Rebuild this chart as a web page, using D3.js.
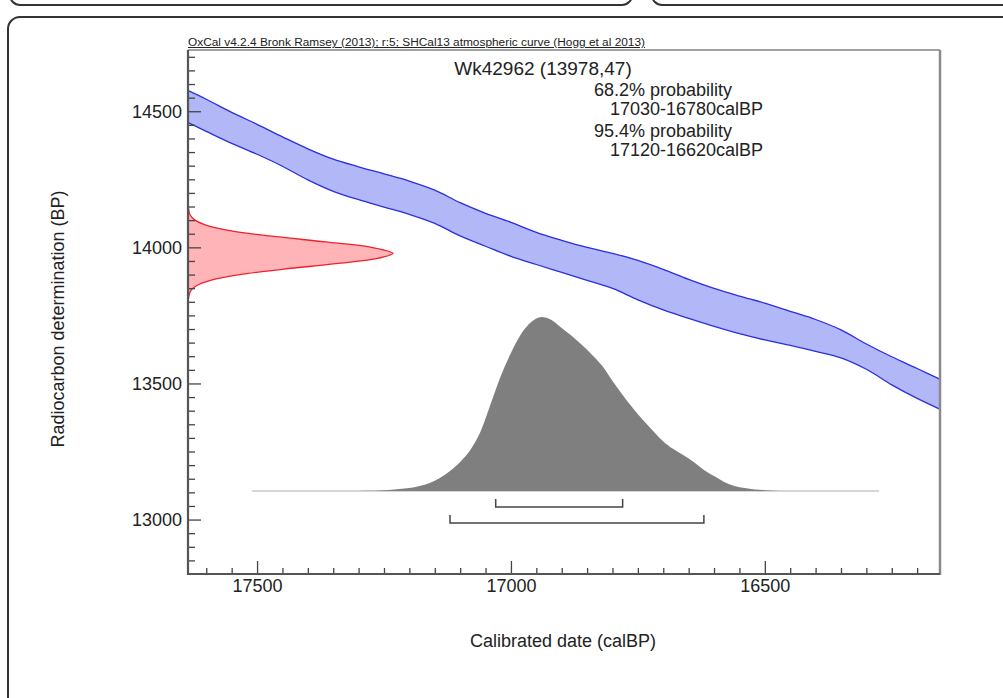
<!DOCTYPE html>
<html>
<head>
<meta charset="utf-8">
<script src="https://cdn.jsdelivr.net/npm/d3@7"></script>
<style>
  html, body { margin: 0; padding: 0; background: #fff; }
  svg { display: block; font-family: "Liberation Sans", Arial, Helvetica, sans-serif; }
</style>
</head>
<body>
<svg id="chart" width="1003" height="698"></svg>
<script>
// ---- Sample and calibration summary ----
const sampleName = "Wk42962";
const c14Age = 13978;
const c14Error = 47;
const headerText = "OxCal v4.2.4 Bronk Ramsey (2013); r:5; SHCal13 atmospheric curve (Hogg et al 2013)";
const rangeLevels = ["68.2% probability", "95.4% probability"];
const rangeFrom = [17030, 17120];
const rangeTo = [16780, 16620];

// ---- Axes ----
const calDomain = [17636, 16155];
const bpDomain = [12800, 14725];
const xTicks = [17500, 17000, 16500];
const yTicks = [13000, 13500, 14000, 14500];
const xTitle = "Calibrated date (calBP)";
const yTitle = "Radiocarbon determination (BP)";

// ---- Calibration curve (1-sigma envelope) ----
const curveCalBP = [17650, 17600, 17550, 17500, 17450, 17400, 17350, 17300, 17250, 17200, 17150,
                    17100, 17050, 17000, 16950, 16900, 16850, 16800, 16750, 16700, 16650, 16600,
                    16550, 16500, 16450, 16400, 16350, 16300, 16250, 16200, 16150];
const curveUpper = [14588, 14544, 14496, 14452, 14406, 14362, 14324, 14296, 14270, 14243, 14210,
                    14164, 14125, 14092, 14055, 14026, 14000, 13978, 13952, 13919, 13882, 13849,
                    13821, 13795, 13765, 13735, 13697, 13645, 13598, 13555, 13511];
const curveLower = [14471, 14426, 14382, 14342, 14298, 14248, 14206, 14175, 14148, 14121, 14088,
                    14042, 14004, 13967, 13937, 13908, 13879, 13849, 13807, 13770, 13739, 13710,
                    13683, 13660, 13640, 13618, 13594, 13552, 13495, 13445, 13401];

// ---- Radiocarbon measurement distribution (relative probability) ----
const c14BP = [13800, 13820, 13840, 13860, 13880, 13900, 13920, 13940, 13960, 13978,
               14000, 14020, 14040, 14060, 14080, 14100, 14120, 14140, 14160];
const c14Prob = [0.001, 0.004, 0.013, 0.043, 0.114, 0.252, 0.467, 0.721, 0.929, 1.000,
                 0.896, 0.671, 0.419, 0.218, 0.095, 0.034, 0.010, 0.003, 0.001];

// ---- Calibrated distribution (relative probability) ----
const postCalBP = [17300, 17280, 17260, 17240, 17220, 17200, 17180, 17160, 17140, 17120, 17100,
                   17080, 17060, 17040, 17020, 17000, 16980, 16960, 16940, 16920, 16900, 16880,
                   16860, 16840, 16820, 16800, 16780, 16760, 16740, 16720, 16700, 16680, 16660,
                   16640, 16620, 16600, 16580, 16560, 16540, 16520, 16500, 16480, 16460];
const postProb = [0, 0.001, 0.003, 0.006, 0.011, 0.017, 0.029, 0.046, 0.075, 0.115, 0.167,
                  0.236, 0.340, 0.500, 0.661, 0.793, 0.902, 0.971, 1.000, 0.983, 0.937, 0.891,
                  0.839, 0.782, 0.718, 0.632, 0.552, 0.477, 0.408, 0.345, 0.285, 0.241, 0.205,
                  0.167, 0.121, 0.086, 0.052, 0.029, 0.017, 0.009, 0.005, 0.002, 0];
const postSpan = [17510, 16275];

// ---- Layout ----
const plot = { left: 188, right: 940, top: 50, bottom: 574 };
const ink = "#222";

const svg = d3.select("#chart");

// Page panels around the figure
svg.append("rect").attr("x", 10).attr("y", -40).attr("width", 622).attr("height", 45)
  .attr("rx", 10).attr("fill", "none").attr("stroke", "#333").attr("stroke-width", 2);
svg.append("rect").attr("x", 652).attr("y", -40).attr("width", 420).attr("height", 45)
  .attr("rx", 10).attr("fill", "none").attr("stroke", "#333").attr("stroke-width", 2);
svg.append("rect").attr("x", 8).attr("y", 17).attr("width", 1040).attr("height", 720)
  .attr("rx", 12).attr("fill", "none").attr("stroke", "#333").attr("stroke-width", 2);

// Scales
const x = d3.scaleLinear().domain(calDomain).range([plot.left, plot.right]);
const y = d3.scaleLinear().domain(bpDomain).range([plot.bottom, plot.top]);
const c14Width = d3.scaleLinear().domain([0, 1]).range([plot.left, plot.left + 205]);
const postY = d3.scaleLinear().domain([0, 1]).range([491, 317]);

svg.append("clipPath").attr("id", "plotClip")
  .append("rect").attr("x", plot.left).attr("y", plot.top)
  .attr("width", plot.right - plot.left).attr("height", plot.bottom - plot.top);

const g = svg.append("g").attr("clip-path", "url(#plotClip)");

// Calibration curve band
const curvePts = curveCalBP.map((c, i) => ({ c, hi: curveUpper[i], lo: curveLower[i] }));
g.append("path").datum(curvePts)
  .attr("d", d3.area().x(d => x(d.c)).y0(d => y(d.lo)).y1(d => y(d.hi)).curve(d3.curveCatmullRom))
  .attr("fill", "#b1b7f7");
["hi", "lo"].forEach(k => {
  g.append("path").datum(curvePts)
    .attr("d", d3.line().x(d => x(d.c)).y(d => y(d[k])).curve(d3.curveCatmullRom))
    .attr("fill", "none").attr("stroke", "#2b2ee0").attr("stroke-width", 1.3);
});

// Radiocarbon measurement (drawn out from the y axis)
const c14Pts = c14BP.map((b, i) => ({ b, p: c14Prob[i] }));
g.append("path").datum(c14Pts)
  .attr("d", d3.area().y(d => y(d.b)).x0(plot.left).x1(d => c14Width(d.p)).curve(d3.curveCatmullRom))
  .attr("fill", "#ffb4b8");
g.append("path").datum(c14Pts)
  .attr("d", d3.line().y(d => y(d.b)).x(d => c14Width(d.p)).curve(d3.curveCatmullRom))
  .attr("fill", "none").attr("stroke", "#f0202c").attr("stroke-width", 1.3);

// Calibrated distribution
g.append("line")
  .attr("x1", x(postSpan[0])).attr("x2", x(postSpan[1]))
  .attr("y1", postY(0)).attr("y2", postY(0))
  .attr("stroke", "#d6d6d6").attr("stroke-width", 2);
const postPts = postCalBP.map((c, i) => ({ c, p: postProb[i] }));
g.append("path").datum(postPts)
  .attr("d", d3.area().x(d => x(d.c)).y0(postY(0)).y1(d => postY(d.p)).curve(d3.curveMonotoneX))
  .attr("fill", "#7f7f7f");

// Probability range brackets
const bracketY = [507, 523];
rangeFrom.forEach((from, i) => {
  const yy = bracketY[i];
  g.append("path")
    .attr("d", `M${x(from)},${yy - 8}V${yy}H${x(rangeTo[i])}V${yy - 8}`)
    .attr("fill", "none").attr("stroke", "#444").attr("stroke-width", 1.5);
});

// Axes with inward ticks
function styleAxis(sel) {
  sel.selectAll(".domain").remove();
  sel.selectAll(".tick line").attr("stroke", "#444").attr("stroke-width", 1.3);
  sel.selectAll(".tick text").attr("fill", ink).style("font-size", "18px")
    .style("font-family", "'Liberation Sans', Arial, sans-serif");
}
const xMinor = d3.range(16200, 17636, 50).filter(v => !xTicks.includes(v));
const yMinor = d3.range(12850, 14725, 50).filter(v => !yTicks.includes(v));

svg.append("g").attr("transform", `translate(0,${plot.bottom})`)
  .call(d3.axisBottom(x).tickValues(xMinor).tickSize(-6).tickFormat(""))
  .call(styleAxis);
svg.append("g").attr("transform", `translate(0,${plot.bottom})`)
  .call(d3.axisBottom(x).tickValues(xTicks).tickSize(-13).tickPadding(5).tickFormat(d3.format("d")))
  .call(styleAxis);
svg.append("g").attr("transform", `translate(${plot.left},0)`)
  .call(d3.axisLeft(y).tickValues(yMinor).tickSize(-7).tickFormat(""))
  .call(styleAxis);
svg.append("g").attr("transform", `translate(${plot.left},0)`)
  .call(d3.axisLeft(y).tickValues(yTicks).tickSize(-13).tickPadding(6).tickFormat(d3.format("d")))
  .call(styleAxis);

// Frame
svg.append("line").attr("x1", plot.left).attr("x2", plot.right).attr("y1", plot.top).attr("y2", plot.top)
  .attr("stroke", "#444").attr("stroke-width", 1.2);
svg.append("line").attr("x1", plot.right).attr("x2", plot.right).attr("y1", plot.top).attr("y2", plot.bottom + 1)
  .attr("stroke", "#8a8a8a").attr("stroke-width", 2.5);
svg.append("path")
  .attr("d", `M${plot.left},${plot.top}V${plot.bottom}H${plot.right}`)
  .attr("fill", "none").attr("stroke", "#555").attr("stroke-width", 2.2);

// Texts
svg.append("text").attr("x", plot.left).attr("y", 46)
  .attr("textLength", 457).attr("lengthAdjust", "spacingAndGlyphs")
  .style("font-size", "10px").style("text-decoration", "underline")
  .attr("fill", ink).text(headerText);

svg.append("text").attr("x", 543).attr("y", 75).attr("text-anchor", "middle")
  .style("font-size", "19px").attr("fill", ink)
  .text(`${sampleName} (${c14Age},${c14Error})`);

const annoY = [96, 137];
rangeLevels.forEach((lbl, i) => {
  svg.append("text").attr("x", 594).attr("y", annoY[i])
    .style("font-size", "18px").attr("fill", ink).text(lbl);
  svg.append("text").attr("x", 610).attr("y", annoY[i] + 19)
    .style("font-size", "18px").attr("fill", ink)
    .text(`${rangeFrom[i]}-${rangeTo[i]}calBP`);
});

svg.append("text").attr("x", 563).attr("y", 647).attr("text-anchor", "middle")
  .style("font-size", "18px").attr("fill", ink).text(xTitle);

svg.append("text").attr("transform", "translate(64,319) rotate(-90)").attr("text-anchor", "middle")
  .style("font-size", "18px").attr("fill", ink).text(yTitle);
</script>
</body>
</html>
